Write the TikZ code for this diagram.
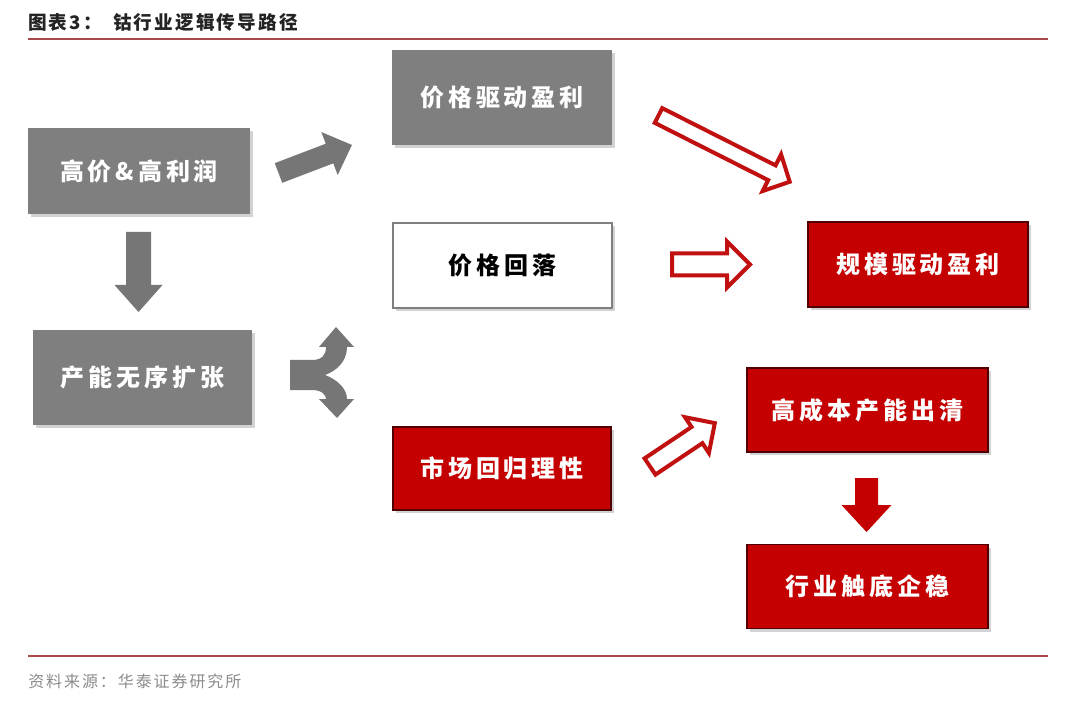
\documentclass[tikz,border=0pt]{standalone}
\usepackage{fontspec}
\usetikzlibrary{shadows}
\newfontfamily\boxfont[LetterSpace=16]{Noto Sans CJK SC}
\newfontfamily\titlefont[LetterSpace=11]{Noto Sans CJK SC}
\newfontfamily\footfont[LetterSpace=12]{Noto Sans CJK SC}
\definecolor{boxgray}{RGB}{127,127,127}
\definecolor{arrgray}{RGB}{118,118,118}
\definecolor{boxred}{RGB}{196,0,0}
\definecolor{rededge}{RGB}{80,0,0}
\definecolor{outred}{RGB}{192,16,16}
\definecolor{rulered}{RGB}{168,72,72}
\definecolor{foot}{RGB}{140,140,140}
\definecolor{titlec}{RGB}{35,35,35}
\tikzset{
  basebox/.style={inner sep=0pt, font=\boxfont\bfseries\fontsize{18pt}{20pt}\selectfont,
    drop shadow={opacity=0.35, shadow xshift=2.5pt, shadow yshift=-2.5pt}},
  graybox/.style={basebox, fill=boxgray, text=white},
  whitebox/.style={basebox, fill=white, draw=boxgray, line width=2pt, text=black},
  redbox/.style={basebox, fill=boxred, draw=rededge, line width=1pt, text=white},
  grayarrow/.style={fill=arrgray},
  redarrow/.style={fill=boxred},
  outarrow/.style={fill=white, draw=outred, line width=3pt, line join=miter},
  rulestyle/.style={draw=rulered, line width=1.5pt}
}
% #1 x, #2 y, #3 angle, #4 length, #5 shaft width, #6 head width, #7 head length, #8 style
\newcommand\blockarrow[8]{%
  \begin{scope}[shift={(#1,#2)},rotate=#3]
    \path[#8] (0,{-#5/2}) -- ({#4-#7},{-#5/2}) -- ({#4-#7},{-#6/2}) -- (#4,0)
      -- ({#4-#7},{#6/2}) -- ({#4-#7},{#5/2}) -- (0,{#5/2}) -- cycle;
  \end{scope}}
\begin{document}
\begin{tikzpicture}[x=0.75pt,y=-0.75pt]
\useasboundingbox[fill=white] (0,0) rectangle (1080,712);

% header and footer
\node[anchor=west, inner sep=0pt, text=titlec, font=\titlefont\bfseries\fontsize{14pt}{16pt}\selectfont] (tlabel) at (28,22) {图表3：};
\node[anchor=west, inner sep=0pt, text=titlec, font=\titlefont\bfseries\fontsize{14pt}{16pt}\selectfont] (ttext) at (113,22) {钴行业逻辑传导路径};
\coordinate (r1a) at (28,39);
\coordinate (r1b) at (1048,39);
\draw[rulestyle] (r1a) -- (r1b);
\coordinate (r2a) at (28,656);
\coordinate (r2b) at (1048,656);
\draw[rulestyle] (r2a) -- (r2b);
\node[anchor=west, inner sep=0pt, text=foot, font=\footfont\fontsize{12pt}{14pt}\selectfont] (src) at (28,681) {资料来源：华泰证券研究所};

% boxes
\node[graybox, minimum width=166.5pt, minimum height=64.5pt] (gj) at (139,171) {高价\&高利润};
\node[graybox, minimum width=165pt, minimum height=71.25pt] (jq) at (502,97.5) {价格驱动盈利};
\node[whitebox, minimum width=164.25pt, minimum height=63.75pt] (jh) at (502.5,265.5) {价格回落};
\node[redbox, minimum width=165pt, minimum height=63.75pt] (gm) at (918,264.5) {规模驱动盈利};
\node[graybox, minimum width=164.25pt, minimum height=71.25pt] (cn) at (142.5,377.5) {产能无序扩张};
\node[redbox, minimum width=163.5pt, minimum height=62.25pt] (sc) at (502,468.5) {市场回归理性};
\node[redbox, minimum width=180.75pt, minimum height=63pt] (gc) at (867.5,410) {高成本产能出清};
\node[redbox, minimum width=180.75pt, minimum height=63pt] (hy) at (867.5,586.5) {行业触底企稳};

% gray block arrows
\blockarrow{278.5}{173}{20.9}{78.6}{21}{46}{24}{grayarrow}
\blockarrow{138.5}{232}{-90}{80}{25}{48}{27}{grayarrow}

% split arrow
\fill[arrgray] (290,360) -- (312,360) .. controls (322,360) and (326,355) .. (326,347)
  -- (319,347) -- (336,327) -- (354,347) -- (347,347)
  .. controls (347,362) and (336,371) .. (325,375)
  .. controls (336,379) and (347,388) .. (347,399)
  -- (354,399) -- (337,418) -- (319,399) -- (326,399)
  .. controls (326,395) and (322,390) .. (312,390) -- (290,390) -- cycle;

% red outline arrows
\blockarrow{658.5}{115.5}{-26.8}{147}{16.5}{41}{20}{outarrow}
\blockarrow{672}{264.5}{0}{78}{22}{46}{23}{outarrow}
\blockarrow{650}{466.5}{33.8}{78}{19.5}{43}{21.5}{outarrow}

% red block arrow
\blockarrow{866.5}{478}{-90}{54}{23}{50}{27}{redarrow}
\end{tikzpicture}
\end{document}
